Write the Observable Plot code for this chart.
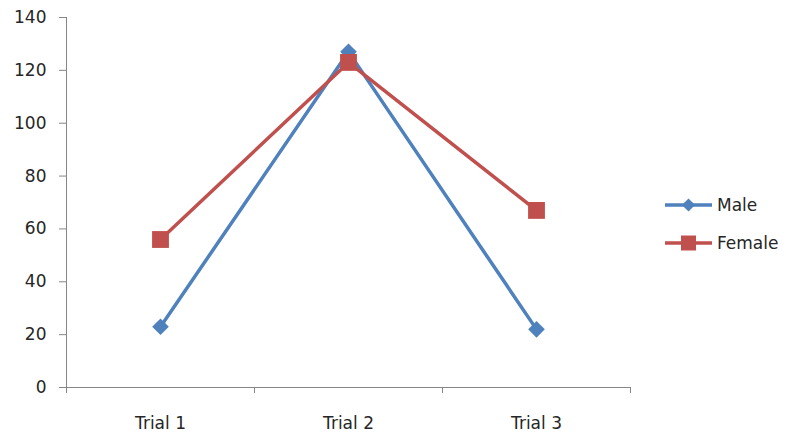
<!DOCTYPE html>
<html>
<head>
<meta charset="utf-8">
<script src="https://cdn.jsdelivr.net/npm/d3@7"></script>
<script src="https://cdn.jsdelivr.net/npm/@observablehq/plot@0.6"></script>
<style>
  html, body { margin: 0; padding: 0; background: #fff; }
  #chart { width: 786px; height: 433px; }
</style>
</head>
<body>
<div id="chart"></div>
<script>
const trials = ["Trial 1", "Trial 2", "Trial 3"];
const seriesNames = ["Male", "Female"];
const maleValues = [23, 127, 22];
const femaleValues = [56, 123, 67];
const seriesColors = ["#4F81BD", "#C0504D"];
const seriesSymbols = ["diamond2", "square"];
const yTicks = [0, 20, 40, 60, 80, 100, 120, 140];

const data = [];
trials.forEach((t, i) => data.push({trial: t, value: maleValues[i], series: "Male"}));
trials.forEach((t, i) => data.push({trial: t, value: femaleValues[i], series: "Female"}));

const axisGray = "#868686";
const textColor = "#262626";
const font = "'DejaVu Sans', sans-serif";
const fs = 17;

const chart = Plot.plot({
  width: 786,
  height: 433,
  marginLeft: 66,
  marginRight: 156,
  marginTop: 17,
  marginBottom: 46,
  style: {fontFamily: font, fontSize: fs + "px", background: "#fff", overflow: "visible"},
  x: {type: "band", domain: trials, padding: 0, label: null, axis: null},
  y: {domain: [0, 140], label: null, axis: null},
  color: {domain: seriesNames, range: seriesColors},
  symbol: {domain: seriesNames, range: seriesSymbols},
  marks: [
    Plot.axisY(yTicks, {tickSize: 7, tickPadding: 13, stroke: axisGray, fill: textColor, label: null, fontSize: fs}),
    Plot.axisX({tickSize: 0, tickPadding: 29, fill: textColor, label: null, fontSize: fs}),
    Plot.line(data.filter(d => d.series === "Male"), {x: "trial", y: "value", stroke: "series", strokeWidth: 3.5}),
    Plot.dot(data.filter(d => d.series === "Male"), {x: "trial", y: "value", fill: "series", symbol: "series", r: 7.5, stroke: null}),
    Plot.line(data.filter(d => d.series === "Female"), {x: "trial", y: "value", stroke: "series", strokeWidth: 3.5}),
    Plot.dot(data.filter(d => d.series === "Female"), {x: "trial", y: "value", fill: "series", symbol: "series", r: 9.5, stroke: null})
  ]
});
document.getElementById("chart").appendChild(chart);

// axis lines and category boundary ticks, from the plot's own scales
const xs = chart.scale("x");
const ys = chart.scale("y");
const svg = d3.select(chart);
const x0 = Math.min(...xs.range), x1 = Math.max(...xs.range);
const yBase = ys.apply(0), yTop = ys.apply(140);
const g = svg.append("g").attr("stroke", axisGray).attr("stroke-width", 1).attr("shape-rendering", "crispEdges");
g.append("line").attr("x1", x0).attr("x2", x0).attr("y1", yTop).attr("y2", yBase + 6);
g.append("line").attr("x1", x0).attr("x2", x1).attr("y1", yBase).attr("y2", yBase);
for (let i = 0; i <= trials.length; i++) {
  const xv = x0 + i * xs.step;
  g.append("line").attr("x1", xv).attr("x2", xv).attr("y1", yBase).attr("y2", yBase + 6);
}

// legend
const leg = svg.append("g").attr("transform", `translate(${x1 + 35},0)`);
seriesNames.forEach((name, i) => {
  const y = 205 + i * 38;
  const row = leg.append("g").attr("transform", `translate(0,${y})`);
  row.append("line").attr("x1", 0).attr("x2", 47).attr("stroke", seriesColors[i]).attr("stroke-width", 3.5);
  const sym = i === 0 ? d3.symbolDiamond2 : d3.symbolSquare;
  const size = i === 0 ? 110 : 225;
  row.append("path").attr("d", d3.symbol(sym, size)()).attr("transform", "translate(23.5,0)").attr("fill", seriesColors[i]);
  row.append("text").attr("x", 52).attr("dy", "0.36em").attr("fill", textColor)
    .attr("text-anchor", "start").attr("font-family", font).attr("font-size", fs).text(name);
});
</script>
</body>
</html>
